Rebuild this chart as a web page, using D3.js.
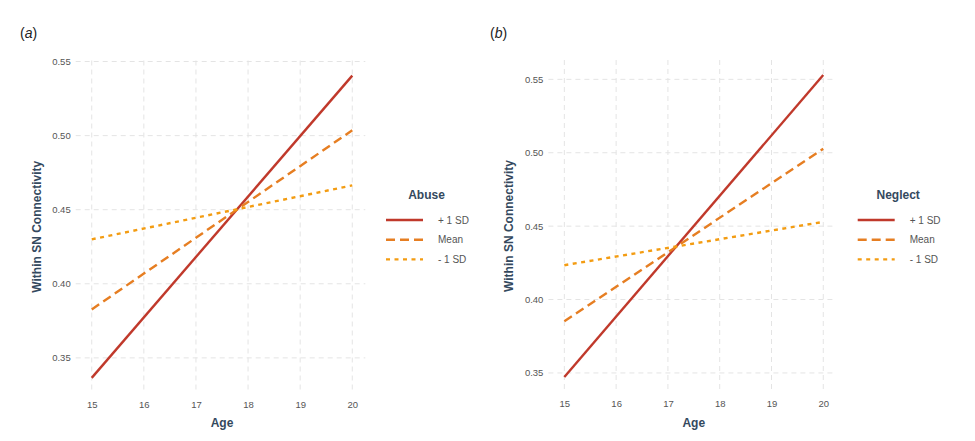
<!DOCTYPE html>
<html>
<head>
<meta charset="utf-8">
<script src="https://cdn.jsdelivr.net/npm/d3@7"></script>
<style>
  body { margin: 0; background: #fff; }
  svg { font-family: "Liberation Sans", Arial, sans-serif; }
  .grid line { stroke: #e4e4e4; stroke-width: 1; stroke-dasharray: 5,4; }
  .tick-label { fill: #555; font-size: 9.5px; }
  .axis-title { fill: #34495e; font-size: 12px; font-weight: bold; }
  .legend-title { fill: #34495e; font-size: 12px; font-weight: bold; }
  .legend-label { fill: #555; font-size: 10px; }
</style>
</head>
<body>
<script>
// ages at the two ends of each predicted line
const ages = [15, 20]
const xTicks = [15, 16, 17, 18, 19, 20]
const yTicks = [0.35, 0.40, 0.45, 0.50, 0.55]
const groups = ['+ 1 SD', 'Mean', '- 1 SD']

// panel (a) Abuse
const abusePlus = [0.3365, 0.5405]
const abuseMean = [0.3827, 0.5036]
const abuseMinus = [0.4300, 0.4664]

// panel (b) Neglect
const neglectPlus = [0.3473, 0.5529]
const neglectMean = [0.3852, 0.5027]
const neglectMinus = [0.4234, 0.4529]

const colors = ['#c0392b', '#e67e22', '#f39c12']
const dashes = [null, '9,5', '4,4.5']

const svg = d3.select('body').append('svg')
  .attr('width', 975)
  .attr('height', 441)

// ggplot-like 5% expansion around the data
function expand(ext) {
  const pad = (ext[1] - ext[0]) * 0.05
  return [ext[0] - pad, ext[1] + pad]
}

function drawPanel(opts) {
  const { label, title, series, left, right, top, bottom, labelX, yTitleX, legendX } = opts

  const xScale = d3.scaleLinear()
    .domain(expand(d3.extent(ages)))
    .range([left, right])

  const yScale = d3.scaleLinear()
    .domain(expand(d3.extent(series.flat())))
    .range([bottom, top])

  const g = svg.append('g')

  // grid
  const grid = g.append('g').attr('class', 'grid')
  grid.selectAll('.h')
    .data(yTicks)
    .join('line')
    .attr('x1', left - 3).attr('x2', right)
    .attr('y1', d => yScale(d)).attr('y2', d => yScale(d))
  grid.selectAll('.v')
    .data(xTicks)
    .join('line')
    .attr('x1', d => xScale(d)).attr('x2', d => xScale(d))
    .attr('y1', top).attr('y2', bottom)

  // axes (labels only, no axis lines)
  const xAxis = d3.axisBottom(xScale).tickValues(xTicks).tickFormat(d3.format('d')).tickSize(0).tickPadding(8)
  g.append('g')
    .attr('transform', `translate(0, ${bottom})`)
    .call(xAxis)
    .call(a => a.select('.domain').remove())
    .call(a => a.selectAll('text').attr('class', 'tick-label').attr('fill', null).attr('font-size', null).attr('font-family', null))

  const yAxis = d3.axisLeft(yScale).tickValues(yTicks).tickFormat(d3.format('.2f')).tickSize(0).tickPadding(8)
  g.append('g')
    .attr('transform', `translate(${left}, 0)`)
    .call(yAxis)
    .call(a => a.select('.domain').remove())
    .call(a => a.selectAll('text').attr('class', 'tick-label').attr('fill', null).attr('font-size', null).attr('font-family', null))

  // lines
  const line = d3.line()
    .x((d, i) => xScale(ages[i]))
    .y(d => yScale(d))

  g.selectAll('.series')
    .data(series)
    .join('path')
    .attr('d', d => line(d))
    .attr('fill', 'none')
    .attr('stroke', (d, i) => colors[i])
    .attr('stroke-width', 2.4)
    .attr('stroke-dasharray', (d, i) => dashes[i])

  // titles
  g.append('text')
    .attr('class', 'axis-title')
    .attr('x', (left + right) / 2)
    .attr('y', 427)
    .attr('text-anchor', 'middle')
    .text('Age')

  g.append('text')
    .attr('class', 'axis-title')
    .attr('transform', `translate(${yTitleX}, ${(top + bottom) / 2}) rotate(-90)`)
    .attr('text-anchor', 'middle')
    .text('Within SN Connectivity')

  // panel label
  const pl = g.append('text')
    .attr('x', labelX)
    .attr('y', 38)
    .attr('font-size', 14)
    .attr('fill', '#222')
  pl.append('tspan').text('(')
  pl.append('tspan').attr('font-style', 'italic').text(label)
  pl.append('tspan').text(')')

  // legend
  const lg = g.append('g').attr('transform', `translate(${legendX}, 0)`)
  lg.append('text')
    .attr('class', 'legend-title')
    .attr('x', 40.5)
    .attr('y', 199)
    .attr('text-anchor', 'middle')
    .text(title)
  const items = lg.selectAll('.item')
    .data(groups)
    .join('g')
    .attr('transform', (d, i) => `translate(0, ${220 + i * 19.7})`)
  items.append('line')
    .attr('x1', 0).attr('x2', 37)
    .attr('stroke', (d, i) => colors[i])
    .attr('stroke-width', 2.4)
    .attr('stroke-dasharray', (d, i) => dashes[i])
  items.append('text')
    .attr('class', 'legend-label')
    .attr('x', 52)
    .attr('dy', '0.35em')
    .text(d => d)
}

drawPanel({
  label: 'a', title: 'Abuse',
  series: [abusePlus, abuseMean, abuseMinus],
  left: 78.7, right: 365.3, top: 60.5, bottom: 393,
  labelX: 20, yTitleX: 41, legendX: 386
})

drawPanel({
  label: 'b', title: 'Neglect',
  series: [neglectPlus, neglectMean, neglectMinus],
  left: 551.4, right: 836.2, top: 60, bottom: 392,
  labelX: 490, yTitleX: 513, legendX: 857.7
})
</script>
</body>
</html>
